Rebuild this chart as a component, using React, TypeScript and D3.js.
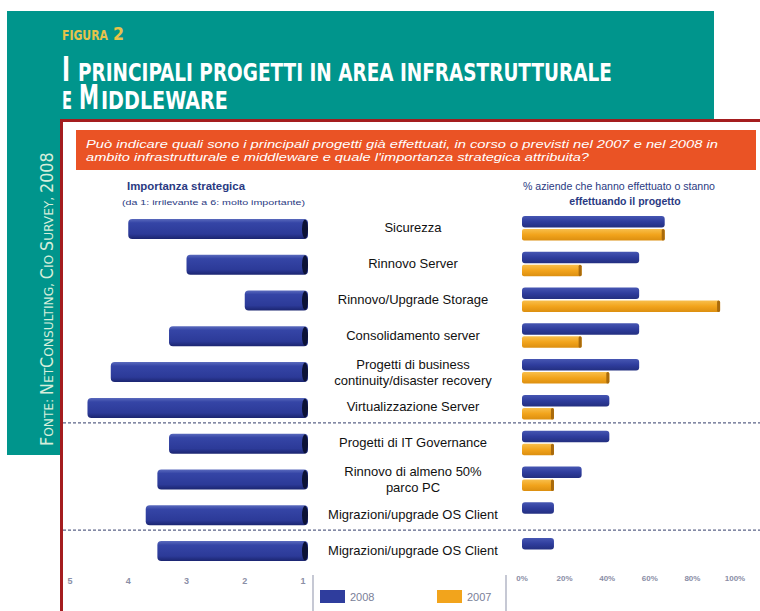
import React, { useLayoutEffect, useRef, useState } from "react";
import * as d3 from "d3";

const categories: string[][] = [
  ["Sicurezza"],
  ["Rinnovo Server"],
  ["Rinnovo/Upgrade Storage"],
  ["Consolidamento server"],
  ["Progetti di business", "continuity/disaster recovery"],
  ["Virtualizzazione Server"],
  ["Progetti di IT Governance"],
  ["Rinnovo di almeno 50%", "parco PC"],
  ["Migrazioni/upgrade OS Client"],
  ["Migrazioni/upgrade OS Client"],
];
const importance = [4.0, 3.0, 2.0, 3.3, 4.3, 4.7, 3.3, 3.5, 3.7, 3.5];
const pct2008 = [67, 55, 55, 55, 55, 41, 41, 28, 15, 15];
const pct2007 = [67, 28, 93, 28, 41, 15, 15, 15, 0, 0];
const leftTicks = [5, 4, 3, 2, 1];
const rightTicks = [0, 20, 40, 60, 80, 100];
const separatorsAfter = [5, 8];
const seriesNames = ["2008", "2007"];

const BLUE = "#2f3d9d";
const ORANGE = "#f2a41c";
const NAVY = "#2a3a82";

function FitText(props: any) {
  const { x, y, width, rotate, children, ...rest } = props;
  const ref = useRef<SVGTextElement>(null);
  const [sx, setSx] = useState(1);
  useLayoutEffect(() => {
    if (ref.current) {
      const w = ref.current.getComputedTextLength();
      if (w > 0) setSx(width / w);
    }
  }, [width]);
  const tr = `translate(${x},${y})${rotate ? ` rotate(${rotate})` : ""} scale(${sx},1)`;
  return (
    <text ref={ref} transform={tr} {...rest}>
      {children}
    </text>
  );
}

export default function App() {
  const y = d3
    .scaleBand<number>()
    .domain(d3.range(categories.length))
    .range([211, 569])
    .paddingInner(0);
  const xl = d3.scaleLinear().domain([1, 5]).range([303, 70]);
  const xr = d3.scaleLinear().domain([0, 100]).range([522, 735]);
  const cy = (i: number) => (y(i) as number) + y.bandwidth() / 2;
  const condensed = "'DejaVu Sans Condensed', 'Liberation Sans Narrow', Roboto, sans-serif";
  const sans = "'Liberation Sans', Arial, sans-serif";

  return (
    <svg
      width={760}
      height={611}
      style={{ position: "absolute", left: 0, top: 0, background: "#fff" }}
    >
      <defs>
        <linearGradient id="lbar" x1="0" y1="0" x2="0" y2="1">
          <stop offset="0" stopColor="#5a6abd" />
          <stop offset="0.2" stopColor="#3545a6" />
          <stop offset="0.75" stopColor="#2c3a98" />
          <stop offset="1" stopColor="#1b2570" />
        </linearGradient>
        <linearGradient id="rblue" x1="0" y1="0" x2="0" y2="1">
          <stop offset="0" stopColor="#4656b2" />
          <stop offset="0.5" stopColor="#2f3d9d" />
          <stop offset="1" stopColor="#232f80" />
        </linearGradient>
        <linearGradient id="rorange" x1="0" y1="0" x2="0" y2="1">
          <stop offset="0" stopColor="#f8bf4c" />
          <stop offset="0.5" stopColor="#f2a41c" />
          <stop offset="1" stopColor="#dc8f10" />
        </linearGradient>
      </defs>

      {/* teal header and side strip */}
      <rect x={7} y={11} width={707} height={110} fill="#00958c" />
      <rect x={7} y={11} width={53} height={444} fill="#00958c" />

      <FitText x={62} y={40} width={46} fontFamily={condensed} fontWeight="bold" fontSize={14} fill="#e8c24a">
        FIGURA
      </FitText>
      <FitText x={113} y={40} width={11} fontFamily={condensed} fontWeight="bold" fontSize={18} fill="#e8c24a">
        2
      </FitText>

      <FitText x={62} y={81} width={8} fontFamily={condensed} fontWeight="bold" fontSize={34} fill="#ffffff">
        I
      </FitText>
      <FitText x={78} y={81} width={534} fontFamily={condensed} fontWeight="bold" fontSize={25} fill="#ffffff">
        PRINCIPALI PROGETTI IN AREA INFRASTRUTTURALE
      </FitText>
      <FitText x={62} y={109} width={10} fontFamily={condensed} fontWeight="bold" fontSize={25} fill="#ffffff">
        E
      </FitText>
      <FitText x={79} y={109} width={20} fontFamily={condensed} fontWeight="bold" fontSize={34} fill="#ffffff">
        M
      </FitText>
      <FitText x={101} y={109} width={127} fontFamily={condensed} fontWeight="bold" fontSize={25} fill="#ffffff">
        IDDLEWARE
      </FitText>

      <FitText x={53} y={446} rotate={-90} width={294} fontFamily={condensed} fill="#d6eedb">
        <tspan fontSize={17}>F</tspan>
        <tspan fontSize={13}>ONTE: </tspan>
        <tspan fontSize={17}>N</tspan>
        <tspan fontSize={13}>ET</tspan>
        <tspan fontSize={17}>C</tspan>
        <tspan fontSize={13}>ONSULTING, </tspan>
        <tspan fontSize={17}>C</tspan>
        <tspan fontSize={13}>IO </tspan>
        <tspan fontSize={17}>S</tspan>
        <tspan fontSize={13}>URVEY, </tspan>
        <tspan fontSize={17}>2008</tspan>
      </FitText>

      {/* main panel */}
      <rect x={61.5} y={120.5} width={710} height={500} fill="#ffffff" stroke="#a41d1f" strokeWidth={3} />

      {/* question box */}
      <rect x={76} y={130} width={680} height={40} fill="#ea5325" />
      <text x={86} y={148} fontFamily={sans} fontStyle="italic" fontSize={11} fill="#fff" textLength={632} lengthAdjust="spacingAndGlyphs">
        Può indicare quali sono i principali progetti già effettuati, in corso o previsti nel 2007 e nel 2008 in
      </text>
      <text x={86} y={161} fontFamily={sans} fontStyle="italic" fontSize={11} fill="#fff" textLength={503} lengthAdjust="spacingAndGlyphs">
        ambito infrastrutturale e middleware e quale l'importanza strategica attribuita?
      </text>

      {/* column headers */}
      <text x={127} y={190} fontFamily={sans} fontSize={10.5} fontWeight="bold" fill={NAVY} textLength={118} lengthAdjust="spacingAndGlyphs">
        Importanza strategica
      </text>
      <text x={122} y={205} fontFamily={sans} fontSize={7.5} fill={NAVY} textLength={183} lengthAdjust="spacingAndGlyphs">
        (da 1: irrilevante a 6: molto importante)
      </text>
      <text x={523} y={190} fontFamily={sans} fontSize={10.5} fill={NAVY} textLength={192} lengthAdjust="spacingAndGlyphs">
        % aziende che hanno effettuato o stanno
      </text>
      <text x={625} y={205} fontFamily={sans} fontSize={10.5} fontWeight="bold" fill={NAVY} textAnchor="middle">
        effettuando il progetto
      </text>

      {/* separators */}
      {separatorsAfter.map((i) => {
        const yy = (y(i) as number) + y.bandwidth() - 3;
        return (
          <line key={i} x1={63} x2={760} y1={yy} y2={yy} stroke="#5c6488" strokeWidth={1.3} strokeDasharray="3,2" />
        );
      })}

      {/* left bars */}
      {importance.map((v, i) => {
        const c = cy(i);
        const x0 = xl(v);
        const x1 = xl(1) + 5;
        return (
          <g key={"l" + i}>
            <rect x={x0} y={c - 10} width={x1 - x0} height={20} rx={4} fill="url(#lbar)" />
            <ellipse cx={x1 - 3} cy={c} rx={3} ry={9.5} fill="#0c1236" />
          </g>
        );
      })}

      {/* labels */}
      {categories.map((lines, i) => {
        const c = cy(i);
        const offs = lines.length === 1 ? [0] : [-7, 9];
        return (
          <text key={"t" + i} fontFamily={sans} fontSize={13} fill="#111" textAnchor="middle">
            {lines.map((ln, k) => (
              <tspan key={k} x={413} y={c + offs[k]} dominantBaseline="middle">
                {ln}
              </tspan>
            ))}
          </text>
        );
      })}

      {/* right bars */}
      {pct2008.map((v, i) => {
        const c = cy(i);
        return v > 0 ? (
          <g key={"b" + i}>
            <rect x={xr(0)} y={c - 13} width={xr(v) - xr(0)} height={11.5} rx={3} fill="url(#rblue)" />
          </g>
        ) : null;
      })}
      {pct2007.map((v, i) => {
        const c = cy(i);
        return v > 0 ? (
          <g key={"o" + i}>
            <rect x={xr(0)} y={c} width={xr(v) - xr(0)} height={11.5} rx={2} fill="url(#rorange)" />
            <rect x={xr(v) - 3} y={c} width={3} height={11.5} rx={1.5} fill="#a86a0c" />
          </g>
        ) : null;
      })}

      {/* axes tick labels */}
      {leftTicks.map((t) => (
        <text key={"lt" + t} x={xl(t)} y={584} fontFamily={sans} fontSize={9} fontWeight="bold" fill="#8a8ea6" textAnchor="middle">
          {t}
        </text>
      ))}
      {rightTicks.map((t) => (
        <text key={"rt" + t} x={xr(t)} y={581} fontFamily={sans} fontSize={8} fontWeight="bold" fill="#8a8ea6" textAnchor="middle">
          {t + "%"}
        </text>
      ))}

      {/* legend */}
      <line x1={313} x2={313} y1={575} y2={611} stroke="#a0a4b8" strokeWidth={1.2} />
      <line x1={506} x2={506} y1={575} y2={611} stroke="#a0a4b8" strokeWidth={1.2} />
      <rect x={320} y={590} width={25} height={13} fill={BLUE} />
      <text x={350} y={601} fontFamily={sans} fontSize={11} fill="#7a7e98">{seriesNames[0]}</text>
      <rect x={437} y={590} width={25} height={13} fill={ORANGE} />
      <text x={467} y={601} fontFamily={sans} fontSize={11} fill="#7a7e98">{seriesNames[1]}</text>
    </svg>
  );
}
